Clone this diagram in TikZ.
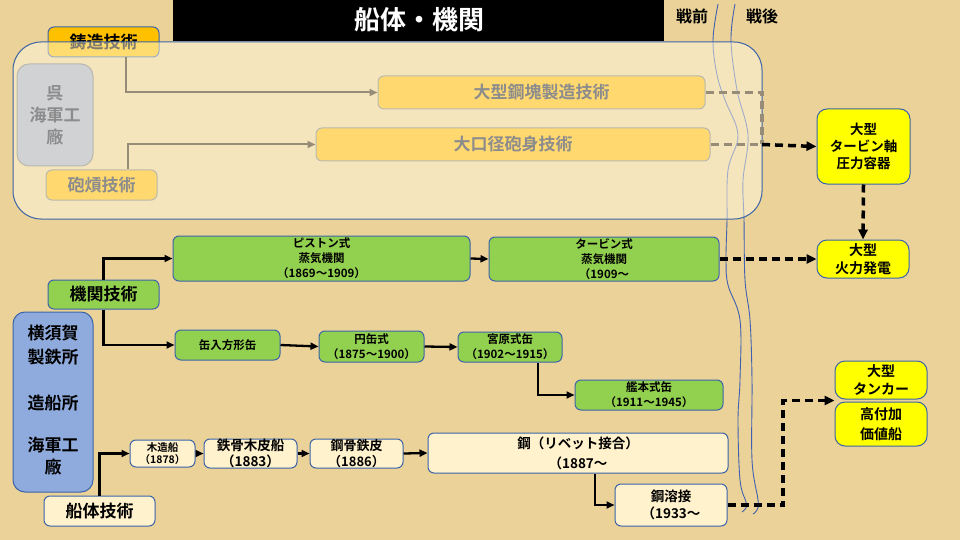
\documentclass[tikz,border=0pt]{standalone}
\usepackage{fontspec}
\setmainfont{Noto Sans CJK JP}[BoldFont={Noto Sans CJK JP Bold}]
\usetikzlibrary{arrows.meta,calc}
\definecolor{bg}{RGB}{235,210,152}
\definecolor{bd}{RGB}{59,100,168}
\definecolor{grn}{RGB}{146,208,80}
\definecolor{crm}{RGB}{255,242,204}
\definecolor{ylw}{RGB}{255,255,0}
\definecolor{bluebox}{RGB}{143,170,220}
\definecolor{gold}{RGB}{255,192,0}
\definecolor{fgold}{RGB}{255,217,112}
\definecolor{fbd}{RGB}{185,185,175}
\definecolor{ftxt}{RGB}{140,140,140}
\definecolor{farr}{RGB}{150,140,120}
\definecolor{wave}{RGB}{64,96,176}
\definecolor{kuregray}{RGB}{208,210,212}
\definecolor{ovl}{RGB}{255,248,225}
\begin{document}
\begin{tikzpicture}[x=1pt,y=-1pt,
  base/.style={rounded corners=6pt,inner sep=0pt,align=center,draw=bd,line width=1pt,font=\bfseries},
  gbox/.style={base,fill=grn},
  cbox/.style={base,fill=crm},
  ybox/.style={base,fill=ylw,rounded corners=10pt},
  fbox/.style={base,fill=fgold,draw=fbd,text=ftxt},
  arr/.style={line width=2.3pt,-{Triangle[length=8pt,width=7pt]}},
  garr/.style={line width=2pt,draw=farr,-{Triangle[length=8pt,width=7pt]},color=farr},
  dsh/.style={line width=3.5pt,dash pattern=on 8pt off 5pt},
  dsharr/.style={dsh,-{Triangle[length=10pt,width=9pt]}},
  fdsh/.style={dsh,draw=farr}
]
\useasboundingbox (0,0) rectangle (960,540);
\fill[bg] (0,0) rectangle (960,540);

% wavy separators
\draw[wave,line width=0.9pt] plot[smooth,tension=0.6] coordinates {(718,4) (713,40) (717,75) (725,100) (738,135) (728,170) (727,220) (726,260) (728,285) (740,320) (740,380) (738,420) (740,480) (746,502) (746,508) (742,512)};
\draw[wave,line width=0.9pt] plot[smooth,tension=0.6] coordinates {(735,4) (731,40) (737,90) (748,135) (743,180) (744,220) (745,280) (750,320) (752,380) (752,460) (758,500) (757,510) (753,514)};

% casting box (partly under overlay)
\node[base,fill=gold,minimum width=111pt,minimum height=30pt,font=\bfseries\fontsize{17}{20}\selectfont] (chuzo) at (103.5,42) {鋳造技術};

% overlay
\fill[ovl,fill opacity=0.5,rounded corners=28pt] (13,42) rectangle (762,219);
\draw[bd,line width=1pt,rounded corners=28pt] (13,42) rectangle (762,219);

% faded inner content
\node[base,fill=kuregray,draw=fbd,text=ftxt,rounded corners=12pt,minimum width=76pt,minimum height=102pt,font=\bfseries\fontsize{17}{22}\selectfont] (kure) at (55,115) {呉\\海軍工\\廠};
\node[fbox,minimum width=327pt,minimum height=33pt,font=\bfseries\fontsize{17}{20}\selectfont] (taikou) at (541.5,92.5) {大型鋼塊製造技術};
\node[fbox,minimum width=394pt,minimum height=33pt,font=\bfseries\fontsize{17}{20}\selectfont] (koukei) at (513,144.5) {大口径砲身技術};
\node[fbox,minimum width=111pt,minimum height=30pt,font=\bfseries\fontsize{17}{20}\selectfont] (hokou) at (101.5,185) {砲熕技術};

\draw[garr] ([xshift=22pt]chuzo.south) |- (taikou.west);
\draw[garr] ([xshift=26pt]hokou.north) |- (koukei.west);

% post-war yellow boxes
\node[ybox,minimum width=93pt,minimum height=75pt,font=\bfseries\fontsize{13.5}{17}\selectfont] (tvessel) at (863.5,146.5) {大型\\タービン軸\\圧力容器};
\node[ybox,minimum width=92pt,minimum height=38pt,font=\bfseries\fontsize{14}{18}\selectfont] (karyoku) at (863,259) {大型\\火力発電};
\node[ybox,minimum width=92pt,minimum height=38pt,font=\bfseries\fontsize{14}{18}\selectfont] (tanker) at (881,380) {大型\\タンカー};
\node[ybox,minimum width=92pt,minimum height=44pt,font=\bfseries\fontsize{14}{20}\selectfont] (kouhuka) at (881,424) {高付加\\価値船};

\coordinate (jn) at (762,144.5);
\draw[fdsh] (taikou.east) -| (jn);
\draw[fdsh] (koukei.east) -- (jn);
\draw[dsharr] (jn) -- (tvessel.west);
\draw[dsharr] (tvessel.south) -- (karyoku.north);

% title
\fill[black] (173,0) rectangle (664,41);
\node[text=white,font=\bfseries\fontsize{26}{28}\selectfont] (title) at (419,20) {船体・機関};
\node[font=\bfseries\fontsize{16}{18}\selectfont] (senzen) at (692,16) {戦前};
\node[font=\bfseries\fontsize{16}{18}\selectfont] (sengo) at (762,16) {戦後};

% Yokosuka
\node[base,fill=bluebox,rounded corners=12pt,minimum width=80pt,minimum height=180pt] (yokosuka) at (53,402) {};
\node[font=\bfseries\fontsize{17}{24}\selectfont,align=center] (yk1) at (53,345) {横須賀\\製鉄所};
\node[font=\bfseries\fontsize{17}{20}\selectfont] (yk2) at (53,403) {造船所};
\node[font=\bfseries\fontsize{17}{22}\selectfont,align=center] (yk3) at (53,456) {海軍工\\廠};

% engine technology
\node[gbox,minimum width=111pt,minimum height=29pt,font=\bfseries\fontsize{17}{20}\selectfont] (kikan) at (103.5,294.5) {機関技術};
\node[gbox,minimum width=297pt,minimum height=45pt,font=\bfseries\fontsize{11.5}{15}\selectfont] (piston) at (321.5,258.5) {ピストン式\\蒸気機関\\（1869～1909）};
\node[gbox,minimum width=230pt,minimum height=44pt,font=\bfseries\fontsize{11.5}{15}\selectfont] (turbine) at (604,259) {タービン式\\蒸気機関\\（1909～};
\node[gbox,minimum width=105pt,minimum height=30pt,font=\bfseries\fontsize{11.5}{15}\selectfont] (kannyu) at (227.5,345) {缶入方形缶};
\node[gbox,minimum width=105pt,minimum height=31pt,font=\bfseries\fontsize{11.5}{15}\selectfont] (enkan) at (371.5,346.5) {円缶式\\（1875～1900）};
\node[gbox,minimum width=104pt,minimum height=30pt,font=\bfseries\fontsize{11.5}{15}\selectfont] (miyahara) at (510,347) {宮原式缶\\（1902～1915）};
\node[gbox,minimum width=148pt,minimum height=30pt,font=\bfseries\fontsize{11.5}{15}\selectfont] (kanpon) at (649,395) {艦本式缶\\（1911～1945）};

\draw[arr] (kikan.north) |- (piston.west);
\draw[arr] (kikan.south) |- (kannyu.west);
\draw[arr] (piston.east) -- (turbine.west);
\draw[arr] (kannyu.east) -- (enkan.west);
\draw[arr] (enkan.east) -- (miyahara.west);
\draw[arr] ([xshift=28pt]miyahara.south) |- (kanpon.west);
\draw[dsharr] (turbine.east) -- (karyoku.west);

% hull technology
\node[cbox,minimum width=111pt,minimum height=30pt,font=\bfseries\fontsize{17}{20}\selectfont] (sentai) at (99.5,511) {船体技術};
\node[cbox,minimum width=65pt,minimum height=27pt,font=\bfseries\fontsize{10.5}{12.5}\selectfont] (mokuzo) at (162.5,453.5) {木造船\\（1878）};
\node[cbox,minimum width=93pt,minimum height=29pt,font=\bfseries\fontsize{13.5}{15.5}\selectfont] (tekkotsu) at (250.5,453.5) {鉄骨木皮船\\（1883）};
\node[cbox,minimum width=93pt,minimum height=29pt,font=\bfseries\fontsize{13}{15.5}\selectfont] (koukotsu) at (356.5,453.5) {鋼骨鉄皮\\（1886）};
\node[cbox,minimum width=300pt,minimum height=40pt,font=\bfseries\fontsize{13.5}{20}\selectfont] (kou) at (578,453) {鋼（リベット接合）\\（1887～};
\node[cbox,minimum width=112pt,minimum height=42pt,font=\bfseries\fontsize{13.5}{17}\selectfont] (yousetsu) at (671,505) {鋼溶接\\（1933～};

\draw[arr] (sentai.north) |- (mokuzo.west);
\draw[arr] (mokuzo.east) -- (tekkotsu.west);
\draw[arr] (tekkotsu.east) -- (koukotsu.west);
\draw[arr] (koukotsu.east) -- (kou.west);
\draw[arr] ([xshift=17pt]kou.south) |- (yousetsu.west);

\coordinate (tk) at ($(tanker.south west)!0.5!(kouhuka.north west)$);
\coordinate (bend) at (783,505);
\draw[dsharr] (yousetsu.east) -- (bend) |- (tk);
\end{tikzpicture}
\end{document}
